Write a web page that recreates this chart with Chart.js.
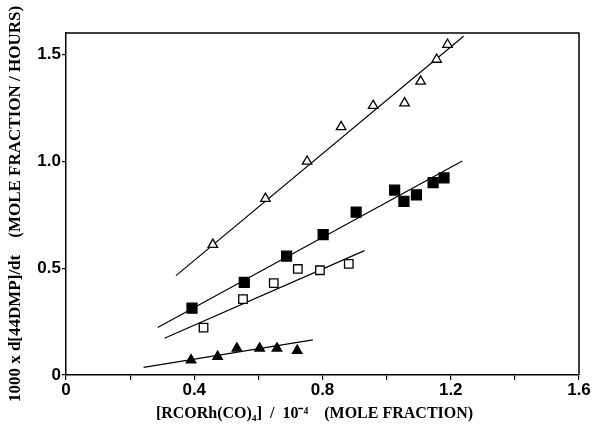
<!DOCTYPE html>
<html>
<head>
<meta charset="utf-8">
<script src="https://cdn.jsdelivr.net/npm/chart.js@4/dist/chart.umd.min.js"></script>
<style>
  html, body { margin: 0; padding: 0; background: #fff; }
  #wrap { width: 596px; height: 424px; }
</style>
</head>
<body>
<div id="wrap"><canvas id="rateChart"></canvas></div>
<script>
// [RCORh(CO)4] (x 10^-4 mole fraction) and rate (1000 x d[44DMP]/dt)
const openTriX = [0.458, 0.622, 0.752, 0.858, 0.958, 1.056, 1.106, 1.156, 1.190];
const openTriY = [0.610, 0.825, 0.999, 1.161, 1.260, 1.272, 1.374, 1.476, 1.546];

const fillSqX = [0.393, 0.556, 0.688, 0.802, 0.905, 1.025, 1.054, 1.093, 1.145, 1.179];
const fillSqY = [0.313, 0.433, 0.556, 0.657, 0.762, 0.865, 0.812, 0.843, 0.900, 0.922];

const openSqX = [0.429, 0.552, 0.648, 0.723, 0.792, 0.882];
const openSqY = [0.222, 0.355, 0.430, 0.496, 0.490, 0.520];

const fillTriX = [0.390, 0.473, 0.533, 0.604, 0.658, 0.721];
const fillTriY = [0.070, 0.086, 0.125, 0.125, 0.125, 0.114];

// fitted lines: [start, end]
const fitOpenTriX = [0.343, 1.240], fitOpenTriY = [0.465, 1.585];
const fitFillSqX = [0.286, 1.236], fitFillSqY = [0.222, 1.001];
const fitOpenSqX = [0.307, 0.931], fitOpenSqY = [0.172, 0.582];
const fitFillTriX = [0.242, 0.770], fitFillTriY = [0.036, 0.164];

const xTickLabels = ['0', '0.4', '0.8', '1.2', '1.6'];
const yTickLabels = ['0', '0.5', '1.0', '1.5'];

function pts(xs, ys) {
    return xs.map((x, i) => ({x: x, y: ys[i]}));
}

function markers(xs, ys, style, fill, r) {
    return {
        data: pts(xs, ys),
        showLine: false,
        pointStyle: style,
        pointRadius: r,
        pointHoverRadius: r,
        pointBackgroundColor: fill,
        pointBorderColor: '#000',
        pointBorderWidth: 1.3
    };
}

function fitLine(xs, ys) {
    return {
        data: pts(xs, ys),
        showLine: true,
        borderColor: '#000',
        borderWidth: 1.2,
        pointRadius: 0,
        pointHoverRadius: 0
    };
}

// closes the box on the top and right sides
const frame = {
    id: 'frame',
    afterDraw(chart) {
        const a = chart.chartArea, ctx = chart.ctx;
        ctx.save();
        ctx.strokeStyle = '#000';
        ctx.lineWidth = 1.5;
        ctx.beginPath();
        ctx.moveTo(a.left, a.top);
        ctx.lineTo(a.right, a.top);
        ctx.lineTo(a.right, a.bottom);
        ctx.stroke();
        ctx.restore();
    }
};

const tickFont = {family: "'Liberation Sans', Arial, sans-serif", size: 17, weight: 'bold'};
const xTitleFont = {family: "'Liberation Serif', 'Times New Roman', serif", size: 16, weight: 'bold'};
const yTitleFont = {family: "'Liberation Serif', 'Times New Roman', serif", size: 17, weight: 'bold'};

new Chart(document.getElementById('rateChart'), {
    type: 'scatter',
    data: {
        datasets: [
            markers(openTriX, openTriY, 'triangle', '#fff', 5.5),
            markers(fillSqX, fillSqY, 'rect', '#000', 7),
            markers(openSqX, openSqY, 'rect', '#fff', 6),
            markers(fillTriX, fillTriY, 'triangle', '#000', 5.5),
            fitLine(fitOpenTriX, fitOpenTriY),
            fitLine(fitFillSqX, fitFillSqY),
            fitLine(fitOpenSqX, fitOpenSqY),
            fitLine(fitFillTriX, fitFillTriY)
        ]
    },
    options: {
        responsive: true,
        maintainAspectRatio: false,
        animation: false,
        events: [],
        layout: {padding: {top: 33, right: 17, left: 0, bottom: 0}},
        plugins: {legend: {display: false}, tooltip: {enabled: false}},
        scales: {
            x: {
                type: 'linear',
                min: 0,
                max: 1.6,
                afterFit: s => { s.height = 49; },
                ticks: {
                    stepSize: 0.2,
                    color: '#000',
                    font: tickFont,
                    padding: 0,
                    maxRotation: 0,
                    autoSkip: false,
                    callback: v => {
                        const k = Math.round(v / 0.4);
                        return Math.abs(v - k * 0.4) < 1e-6 ? xTickLabels[k] : '';
                    }
                },
                grid: {drawOnChartArea: false, color: '#000', tickLength: 5, lineWidth: 1.2},
                border: {color: '#000', width: 1.5},
                title: {
                    display: true,
                    text: '[RCORh(CO)\u2084]  /  10\u207B\u2074    (MOLE FRACTION)    ',
                    color: '#000',
                    font: xTitleFont,
                    padding: {top: 0, bottom: 1}
                }
            },
            y: {
                type: 'linear',
                min: 0,
                max: 1.6,
                afterFit: s => { s.width = 66; },
                afterBuildTicks: s => { s.ticks = s.ticks.filter(t => t.value < 1.55); },
                ticks: {
                    stepSize: 0.5,
                    color: '#000',
                    font: tickFont,
                    padding: 1,
                    callback: v => yTickLabels[Math.round(v / 0.5)]
                },
                grid: {drawOnChartArea: false, color: '#000', tickLength: 4, lineWidth: 1.2},
                border: {color: '#000', width: 1.5},
                title: {
                    display: true,
                    text: '1000 x d[44DMP]/dt    (MOLE FRACTION / HOURS)',
                    color: '#000',
                    font: yTitleFont,
                    padding: {top: 5, bottom: 0}
                }
            }
        }
    },
    plugins: [frame]
});
</script>
</body>
</html>
